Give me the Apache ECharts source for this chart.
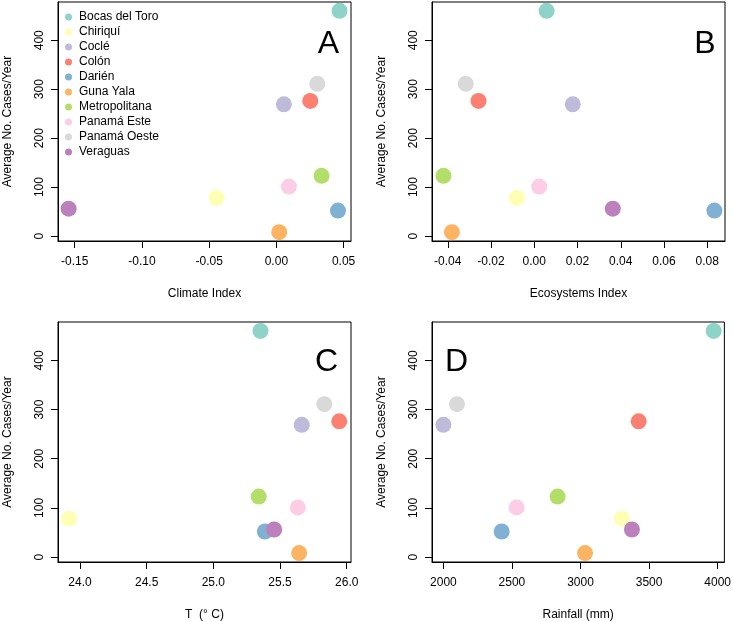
<!DOCTYPE html>
<html>
<head>
<meta charset="utf-8">
<script src="https://cdn.jsdelivr.net/npm/echarts@6/dist/echarts.min.js"></script>
<style>
html,body{margin:0;padding:0;background:#fff;}
#chart{width:734px;height:622px;}
</style>
</head>
<body>
<div id="chart"></div>
<script>
// ---- Data ----
const regions = ['Bocas del Toro','Chiriquí','Coclé','Colón','Darién','Guna Yala','Metropolitana','Panamá Este','Panamá Oeste','Veraguas'];
const regionColors = ['#8DD3C7','#FFFFB3','#BEBADA','#FB8072','#80B1D3','#FDB462','#B3DE69','#FCCDE5','#D9D9D9','#BC80BD'];
const cases = [460, 78, 269, 276, 52, 8, 123, 101, 311, 56];
const climateIndex = [0.0470, -0.0444, 0.0056, 0.0252, 0.0458, 0.0021, 0.0336, 0.0093, 0.0304, -0.1545];
const ecosystemsIndex = [0.0057, -0.0080, 0.0178, -0.0258, 0.0833, -0.0381, -0.0420, 0.0023, -0.0317, 0.0363];
const temperature = [25.353, 23.918, 25.663, 25.944, 25.386, 25.643, 25.340, 25.633, 25.832, 25.456];
const rainfall = [3971, 3302, 2000, 3424, 2425, 3033, 2833, 2534, 2099, 3375];

const yTicks = [0, 100, 200, 300, 400];
const climateTicks = [-0.15, -0.10, -0.05, 0.00, 0.05];
const ecosystemsTicks = [-0.04, -0.02, 0.00, 0.02, 0.04, 0.06, 0.08];
const temperatureTicks = [24.0, 24.5, 25.0, 25.5, 26.0];
const rainfallTicks = [2000, 2500, 3000, 3500, 4000];

const panelLetters = ['A', 'B', 'C', 'D'];
const xTitles = ['Climate Index', 'Ecosystems Index', 'T  (° C)', 'Rainfall (mm)'];
const yTitle = 'Average No. Cases/Year';

// ---- Layout ----
const FONT = '"Liberation Sans", Arial, sans-serif';
const grids = [
  {left: 58, top: 2, width: 293, height: 239},
  {left: 432, top: 2, width: 293, height: 239},
  {left: 58, top: 322, width: 293, height: 240},
  {left: 432, top: 322, width: 293, height: 240}
];
const xRanges = [[-0.1624, 0.0555], [-0.0473, 0.0882], [23.835, 26.032], [1917, 4049]];
const xTickSets = [climateTicks, ecosystemsTicks, temperatureTicks, rainfallTicks];
const xFormat = [v => v.toFixed(2), v => v.toFixed(2), v => v.toFixed(1), v => String(Math.round(v))];
const xValues = [climateIndex, ecosystemsIndex, temperature, rainfall];
const letterPos = [[328.5, 44], [705, 44], [326.5, 362], [456.5, 362]];

const axisCommon = {
  axisLine: {show: true, onZero: false, lineStyle: {color: '#000', width: 1}},
  axisTick: {show: true, length: 7, inside: false, lineStyle: {color: '#000', width: 1}},
  splitLine: {show: false},
  nameTextStyle: {color: '#000', fontSize: 12, fontFamily: FONT}
};

const xAxes = grids.map((g, p) => Object.assign({}, axisCommon, {
  type: 'value',
  gridIndex: p,
  position: 'bottom',
  min: xRanges[p][0],
  max: xRanges[p][1],
  name: xTitles[p],
  nameLocation: 'middle',
  nameGap: 47,
  axisTick: Object.assign({}, axisCommon.axisTick, {customValues: xTickSets[p]}),
  axisLabel: {customValues: xTickSets[p], formatter: xFormat[p], color: '#000', fontSize: 12, fontFamily: FONT, margin: 15}
}));

const yAxes = grids.map((g, p) => Object.assign({}, axisCommon, {
  type: 'value',
  gridIndex: p,
  position: 'left',
  min: -10.08,
  max: 478.08,
  name: yTitle,
  nameLocation: 'middle',
  nameGap: 44,
  axisTick: Object.assign({}, axisCommon.axisTick, {customValues: yTicks}),
  axisLabel: {customValues: yTicks, rotate: 90, color: '#000', fontSize: 12, fontFamily: FONT, margin: 12}
}));

const series = [];
for (let p = 0; p < 4; p++) {
  for (let i = 0; i < regions.length; i++) {
    series.push({
      type: 'scatter',
      name: regions[i],
      xAxisIndex: p,
      yAxisIndex: p,
      symbol: 'circle',
      symbolSize: 16,
      itemStyle: {color: regionColors[i], opacity: 1},
      emphasis: {disabled: true},
      data: [[xValues[p][i], cases[i]]]
    });
  }
}

const graphics = panelLetters.map((t, p) => ({
  type: 'text',
  x: letterPos[p][0],
  y: letterPos[p][1],
  z: 100,
  style: {text: t, fill: '#000', fontSize: 32, fontFamily: FONT, align: 'center', verticalAlign: 'middle'}
}));

const chart = echarts.init(document.getElementById('chart'), null, {renderer: 'canvas'});
chart.setOption({
  animation: false,
  backgroundColor: '#fff',
  grid: grids.map(g => Object.assign({show: true, borderColor: '#000', borderWidth: 1, backgroundColor: 'transparent', containLabel: false}, g)),
  xAxis: xAxes,
  yAxis: yAxes,
  legend: {
    data: regions,
    orient: 'vertical',
    left: 65,
    top: 11,
    itemWidth: 7,
    itemHeight: 7,
    itemGap: 3,
    icon: 'circle',
    padding: 0,
    textStyle: {color: '#000', fontSize: 12, fontFamily: FONT, lineHeight: 12, padding: [0, 0, 0, 2]}
  },
  graphic: graphics,
  series: series
});
</script>
</body>
</html>
